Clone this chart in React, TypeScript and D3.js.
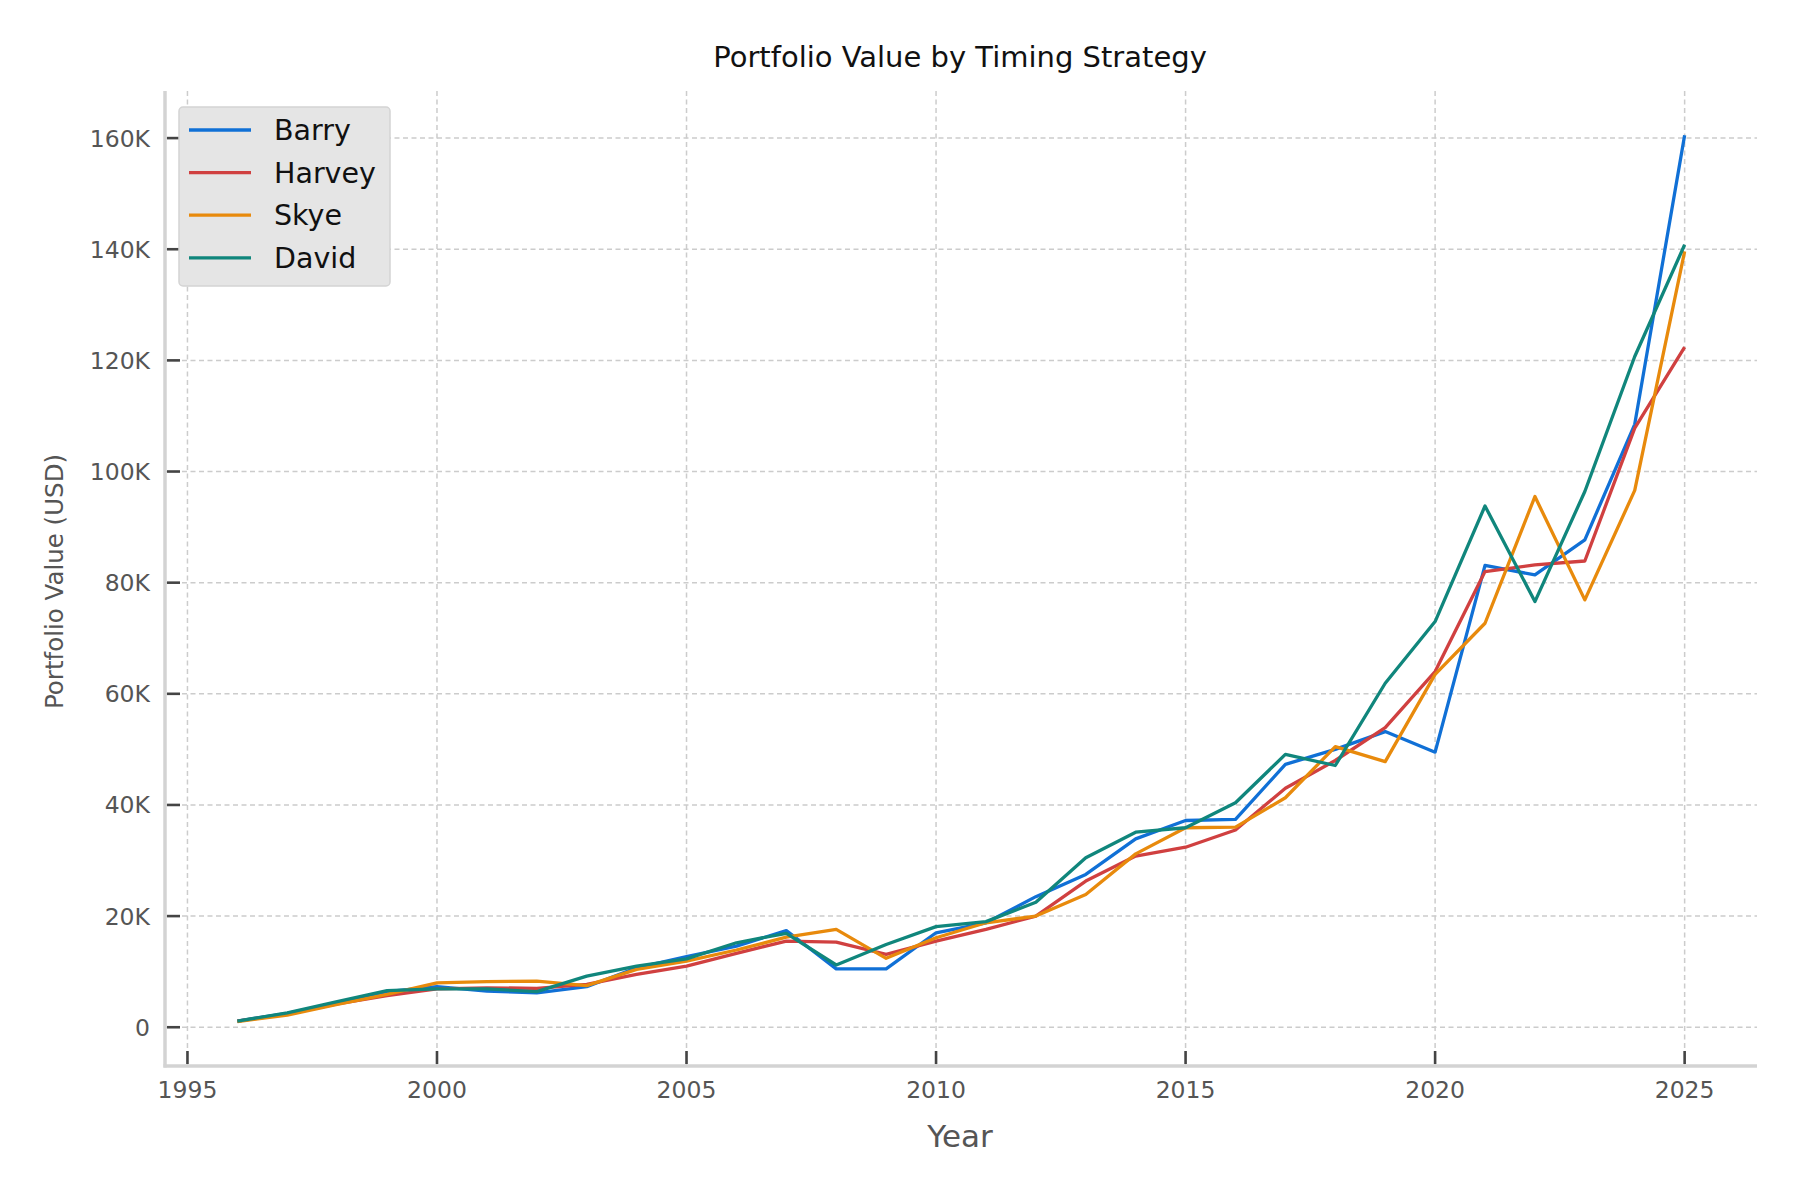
import React, { useEffect, useRef } from 'react'
import * as d3 from 'd3'

const years = d3.range(1996, 2026)

// values in thousands of USD
const barry = [
  1.1, 2.5, 4.4, 6.4, 7.3, 6.5, 6.2, 7.3, 10.7, 12.7, 14.6, 17.4, 10.5, 10.5, 17.0,
  18.8, 23.5, 27.5, 33.9, 37.2, 37.4, 47.3, 50.0, 53.2, 49.5, 83.1, 81.4, 87.7, 108.5, 160.5,
]
const harvey = [
  1.1, 2.4, 4.2, 5.7, 6.9, 7.1, 7.0, 7.7, 9.5, 11.0, 13.3, 15.5, 15.3, 13.1, 15.5,
  17.6, 20.0, 26.3, 30.8, 32.4, 35.5, 43.0, 48.0, 53.9, 64.0, 82.0, 83.2, 83.9, 107.8, 122.4,
]
const skye = [
  1.0, 2.2, 4.1, 5.9, 8.0, 8.2, 8.3, 7.5, 10.4, 11.9, 13.9, 16.2, 17.6, 12.4, 16.1,
  18.8, 20.0, 23.9, 31.2, 35.9, 36.0, 41.3, 50.5, 47.8, 63.5, 72.7, 95.5, 76.9, 96.6, 139.6,
]
const david = [
  1.1, 2.6, 4.6, 6.6, 6.9, 6.9, 6.4, 9.2, 11.0, 12.3, 15.2, 16.9, 11.2, 14.9, 18.1,
  19.0, 22.5, 30.5, 35.1, 35.9, 40.4, 49.1, 47.1, 61.9, 73.0, 93.8, 76.6, 96.4, 120.7, 140.8,
]

const seriesNames = ['Barry', 'Harvey', 'Skye', 'David']
const seriesColors = ['#1070d6', '#d04040', '#e88a0c', '#10867c']
const seriesValues = [barry, harvey, skye, david]

const xTicks = [1995, 2000, 2005, 2010, 2015, 2020, 2025]
const yTicks = [0, 20, 40, 60, 80, 100, 120, 140, 160]

const title = 'Portfolio Value by Timing Strategy'
const xLabel = 'Year'
const yLabel = 'Portfolio Value (USD)'

const width = 1800
const height = 1200
const font = '"DejaVu Sans", sans-serif'

const App = () => {
  const svgRef = useRef<SVGSVGElement>(null)

  useEffect(() => {
    document.body.style.margin = '0'
    const svg = d3.select(svgRef.current)
    svg.selectAll('*').remove()
    svg.attr('width', width).attr('height', height).style('background', '#ffffff')

    const left = 165
    const right = 1757
    const top = 91
    const bottom = 1066

    // matplotlib-like 5% padding on both axes
    const xPad = (2025 - 1996) * 0.05
    const allVals = seriesValues.flat()
    const yMin = d3.min(allVals)
    const yMax = d3.max(allVals)
    const yPad = (yMax - yMin) * 0.05

    const x = d3.scaleLinear().domain([1996 - xPad, 2025 + xPad]).range([left, right])
    const y = d3.scaleLinear().domain([yMin - yPad, yMax + yPad]).range([bottom, top])

    // grid
    const grid = svg.append('g')
    grid
      .selectAll('line.gx')
      .data(xTicks)
      .enter()
      .append('line')
      .attr('x1', d => x(d))
      .attr('x2', d => x(d))
      .attr('y1', top)
      .attr('y2', bottom)
      .attr('stroke', '#cccccc')
      .attr('stroke-width', 1.5)
      .attr('stroke-dasharray', '5,3.5')
    grid
      .selectAll('line.gy')
      .data(yTicks)
      .enter()
      .append('line')
      .attr('x1', left)
      .attr('x2', right)
      .attr('y1', d => y(d))
      .attr('y2', d => y(d))
      .attr('stroke', '#cccccc')
      .attr('stroke-width', 1.5)
      .attr('stroke-dasharray', '5,3.5')

    // lines
    const line = d3
      .line<number>()
      .x((_, i) => x(years[i]))
      .y(d => y(d))

    seriesValues.forEach((vals, i) => {
      svg
        .append('path')
        .datum(vals)
        .attr('d', line)
        .attr('fill', 'none')
        .attr('stroke', seriesColors[i])
        .attr('stroke-width', 3.3)
        .attr('stroke-linejoin', 'round')
    })

    // spines
    svg
      .append('line')
      .attr('x1', left)
      .attr('x2', left)
      .attr('y1', top)
      .attr('y2', bottom + 1.5)
      .attr('stroke', '#d3d3d3')
      .attr('stroke-width', 3.5)
    svg
      .append('line')
      .attr('x1', left - 1.5)
      .attr('x2', right)
      .attr('y1', bottom)
      .attr('y2', bottom)
      .attr('stroke', '#d3d3d3')
      .attr('stroke-width', 3.5)

    // ticks (pointing inward)
    svg
      .selectAll('line.tx')
      .data(xTicks)
      .enter()
      .append('line')
      .attr('x1', d => x(d))
      .attr('x2', d => x(d))
      .attr('y1', bottom - 2)
      .attr('y2', bottom - 15)
      .attr('stroke', '#444444')
      .attr('stroke-width', 2.6)
    svg
      .selectAll('line.ty')
      .data(yTicks)
      .enter()
      .append('line')
      .attr('x1', left + 2)
      .attr('x2', left + 15)
      .attr('y1', d => y(d))
      .attr('y2', d => y(d))
      .attr('stroke', '#444444')
      .attr('stroke-width', 2.6)

    // tick labels
    svg
      .selectAll('text.tx')
      .data(xTicks)
      .enter()
      .append('text')
      .attr('x', d => x(d))
      .attr('y', bottom + 32)
      .attr('text-anchor', 'middle')
      .attr('font-family', font)
      .attr('font-size', 23.5)
      .attr('fill', '#555555')
      .text(d => String(d))
    svg
      .selectAll('text.ty')
      .data(yTicks)
      .enter()
      .append('text')
      .attr('x', left - 15)
      .attr('y', d => y(d))
      .attr('dy', '0.36em')
      .attr('text-anchor', 'end')
      .attr('font-family', font)
      .attr('font-size', 23.5)
      .attr('fill', '#555555')
      .text(d => (d === 0 ? '0' : `${d}K`))

    // axis labels + title
    svg
      .append('text')
      .attr('x', 960)
      .attr('y', 1147)
      .attr('text-anchor', 'middle')
      .attr('font-family', font)
      .attr('font-size', 31)
      .attr('fill', '#555555')
      .text(xLabel)
    svg
      .append('text')
      .attr('transform', `translate(63, ${(top + bottom) / 2 + 3}) rotate(-90)`)
      .attr('text-anchor', 'middle')
      .attr('font-family', font)
      .attr('font-size', 24.5)
      .attr('fill', '#555555')
      .text(yLabel)
    svg
      .append('text')
      .attr('x', 960)
      .attr('y', 67)
      .attr('text-anchor', 'middle')
      .attr('font-family', font)
      .attr('font-size', 29)
      .attr('fill', '#111111')
      .text(title)

    // legend
    const legend = svg.append('g').attr('transform', 'translate(179, 107)')
    legend
      .append('rect')
      .attr('width', 211)
      .attr('height', 179)
      .attr('rx', 4)
      .attr('fill', '#e5e5e5')
      .attr('stroke', '#d4d4d4')
      .attr('stroke-width', 1.5)
    seriesNames.forEach((name, i) => {
      const cy = 23 + i * 42.6
      legend
        .append('line')
        .attr('x1', 10)
        .attr('x2', 72)
        .attr('y1', cy)
        .attr('y2', cy)
        .attr('stroke', seriesColors[i])
        .attr('stroke-width', 3.3)
      legend
        .append('text')
        .attr('x', 95)
        .attr('y', cy)
        .attr('dy', '0.36em')
        .attr('font-family', font)
        .attr('font-size', 28.5)
        .attr('fill', '#111111')
        .text(name)
    })
  }, [])

  return <svg ref={svgRef} style={{ display: 'block' }} />
}

export default App
